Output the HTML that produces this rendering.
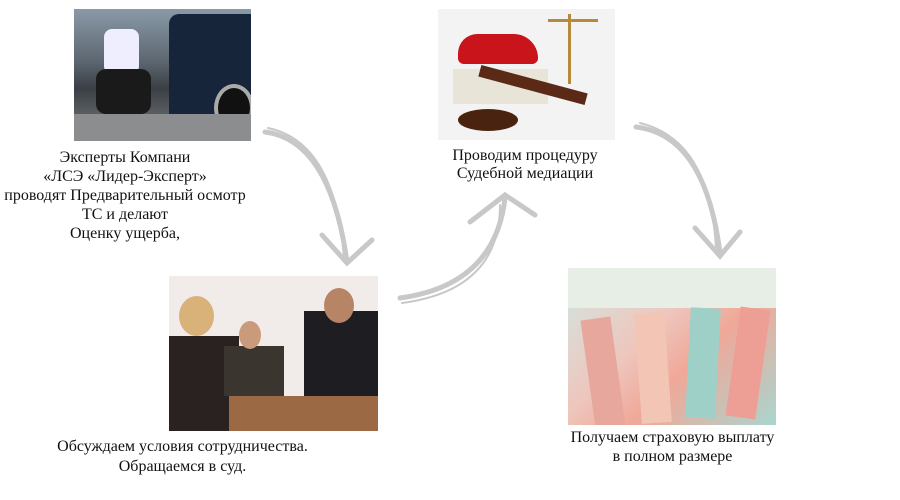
<!DOCTYPE html>
<html><head><meta charset="utf-8"><style>
body{margin:0;width:900px;height:500px;background:#fff;position:relative;overflow:hidden;font-family:"Liberation Serif",serif;font-size:16px;color:#111}
.t{position:absolute;text-align:center;line-height:19px;white-space:nowrap}
.img{position:absolute;overflow:hidden}
</style></head><body>
<div class="img" style="left:74px;top:9px;width:177px;height:132px;background:linear-gradient(180deg,#8a9aa8 0%,#5c6670 40%,#3a3f45 60%,#7b7f82 100%)">
<div style="position:absolute;left:95px;top:5px;width:82px;height:100px;background:#16253a;border-radius:10px 0 0 0"></div>
<div style="position:absolute;left:140px;top:75px;width:32px;height:40px;border-radius:50%;background:#111;border:4px solid #aaa"></div>
<div style="position:absolute;left:30px;top:20px;width:35px;height:45px;background:#eef;border-radius:8px"></div>
<div style="position:absolute;left:22px;top:60px;width:55px;height:45px;background:#1a1a1a;border-radius:10px"></div>
<div style="position:absolute;left:0;top:105px;width:177px;height:27px;background:#8b8d8e"></div>
</div>
<div class="img" style="left:438px;top:9px;width:177px;height:131px;background:#f3f3f3">
<div style="position:absolute;left:20px;top:25px;width:80px;height:30px;background:#c8141a;border-radius:20px 25px 6px 6px"></div>
<div style="position:absolute;left:15px;top:60px;width:95px;height:35px;background:#e8e4d8"></div>
<div style="position:absolute;left:40px;top:70px;width:110px;height:12px;background:#5a2a16;transform:rotate(15deg)"></div>
<div style="position:absolute;left:20px;top:100px;width:60px;height:22px;background:#4a2210;border-radius:50%"></div>
<div style="position:absolute;left:130px;top:5px;width:3px;height:70px;background:#b58a3a"></div>
<div style="position:absolute;left:110px;top:10px;width:50px;height:3px;background:#b58a3a"></div>
</div>
<div class="img" style="left:169px;top:276px;width:209px;height:155px;background:#f1ecea">
<div style="position:absolute;left:0;top:60px;width:70px;height:95px;background:#2a2220"></div>
<div style="position:absolute;left:10px;top:20px;width:35px;height:40px;background:#d9b27a;border-radius:50%"></div>
<div style="position:absolute;left:55px;top:70px;width:60px;height:50px;background:#3b3530"></div>
<div style="position:absolute;left:70px;top:45px;width:22px;height:28px;background:#c99b7a;border-radius:50%"></div>
<div style="position:absolute;left:135px;top:35px;width:74px;height:90px;background:#1e1e22"></div>
<div style="position:absolute;left:155px;top:12px;width:30px;height:35px;background:#b88466;border-radius:50%"></div>
<div style="position:absolute;left:60px;top:120px;width:149px;height:35px;background:#9b6a44"></div>
</div>
<div class="img" style="left:568px;top:268px;width:208px;height:157px;background:linear-gradient(135deg,#cfe8e3 0%,#eec6bd 40%,#f0a898 60%,#a9d6cf 100%)">
<div style="position:absolute;left:0;top:0;width:208px;height:40px;background:#e6eee6"></div>
<div style="position:absolute;left:20px;top:50px;width:30px;height:110px;background:#e7a79d;transform:rotate(-8deg)"></div>
<div style="position:absolute;left:70px;top:45px;width:30px;height:110px;background:#f2c5b5;transform:rotate(-4deg)"></div>
<div style="position:absolute;left:120px;top:40px;width:30px;height:110px;background:#9fd0c8;transform:rotate(3deg)"></div>
<div style="position:absolute;left:165px;top:40px;width:30px;height:110px;background:#ee9f95;transform:rotate(8deg)"></div>
</div>
<svg width="900" height="500" style="position:absolute;left:0;top:0" fill="none" stroke="#c8c8c8" stroke-linecap="round" stroke-width="5">
<path d="M265 132 Q330 140 347 262"/><path d="M322 235 L347 263 L372 240"/>
<path d="M268 128 Q335 142 344 258" stroke-width="2"/>
<path d="M400 298 Q495 285 505 198"/><path d="M470 222 L505 195 L535 215"/>
<path d="M402 303 Q500 290 500 205" stroke-width="2"/>
<path d="M636 127 Q705 135 720 253"/><path d="M695 228 L720 256 L740 232"/>
<path d="M640 123 Q710 140 716 248" stroke-width="2"/>
</svg>
<div class="t" style="left:0;width:250px;top:148px">Эксперты Компани<br>«ЛСЭ «Лидер-Эксперт»<br>проводят Предварительный осмотр<br>ТС и делают<br>Оценку ущерба,</div>
<div class="t" style="left:425px;width:200px;top:147px;line-height:18px">Проводим процедуру<br>Судебной медиации</div>
<div class="t" style="left:40px;width:285px;top:437px;line-height:20px">Обсуждаем условия сотрудничества.<br>Обращаемся в суд.</div>
<div class="t" style="left:560px;width:225px;top:428px">Получаем страховую выплату<br>в полном размере</div>
</body></html>
